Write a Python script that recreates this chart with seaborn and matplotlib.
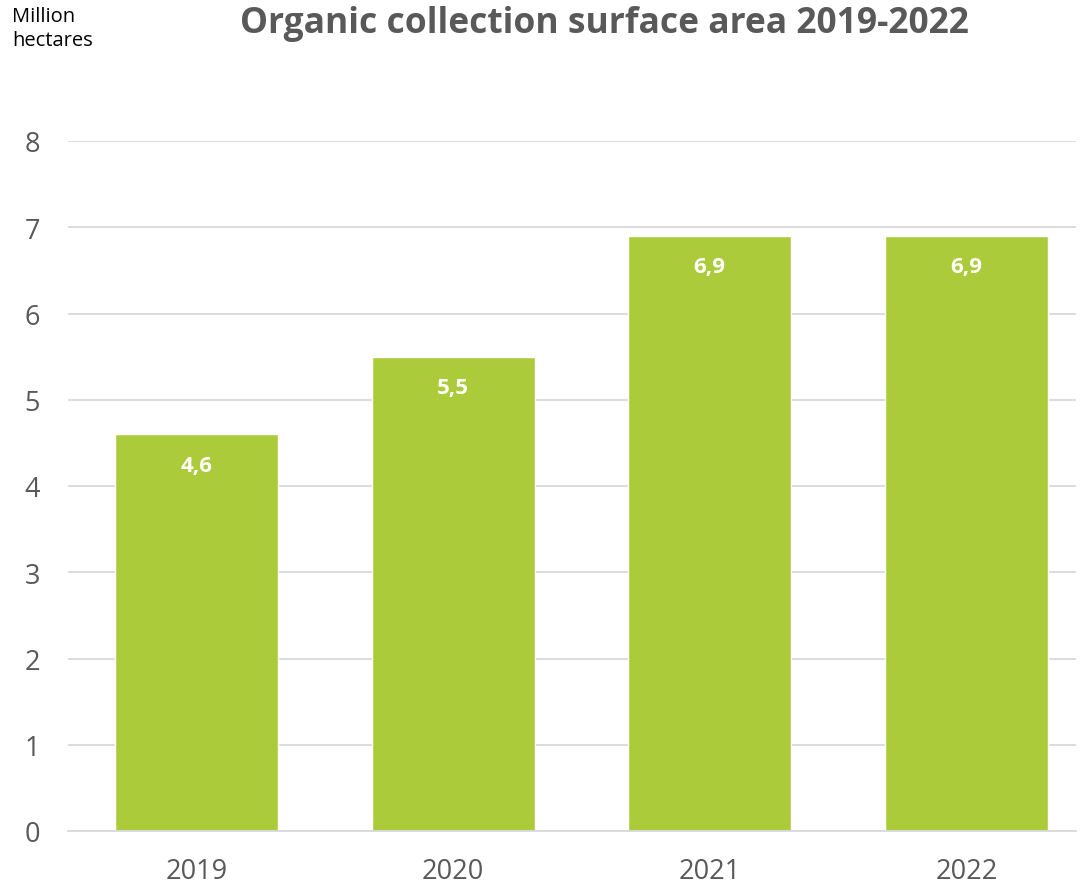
import numpy as np
import pandas as pd
import matplotlib
matplotlib.use("Agg")
import matplotlib.pyplot as plt
import seaborn as sns

years = ["2019", "2020", "2021", "2022"]
area = [4.6, 5.5, 6.9, 6.9]
labels = ["4,6", "5,5", "6,9", "6,9"]

df = pd.DataFrame({"year": years, "area": area})

sns.set_style("white")
plt.rcParams["font.family"] = ["Open Sans", "DejaVu Sans"]

fig = plt.figure(figsize=(10.84, 8.87), dpi=100)
ax = fig.add_axes([68 / 1084, 1 - 832 / 887, (1076 - 68) / 1084, (832 - 142) / 887])

sns.barplot(data=df, x="year", y="area", color="#abcb3b", saturation=1, width=0.635, ax=ax)

ax.set_xlim(-0.5, 3.427)
ax.set_ylim(0, 8)
ax.set_yticks(range(0, 9))
ax.grid(axis="y", color="#d9d9d9", linewidth=1.3)
ax.set_axisbelow(True)
for s in ["top", "right", "left"]:
    ax.spines[s].set_visible(False)
ax.spines["bottom"].set_color("#d9d9d9")
ax.spines["bottom"].set_linewidth(1.3)
ax.tick_params(axis="both", length=0, labelsize=19.5, colors="#595959")
ax.tick_params(axis="x", pad=19)
ax.tick_params(axis="y", pad=20)
ax.set_xlabel("")
ax.set_ylabel("")

for i, (v, t) in enumerate(zip(area, labels)):
    ax.text(i, v - 0.36, t, ha="center", va="center", color="white",
            fontsize=16, fontweight="bold")

fig.text(604 / 1084, 1 - 24 / 887, "Organic collection surface area 2019-2022",
         ha="center", va="center", fontsize=25.5, fontweight="bold", color="#595959")
fig.text(12 / 1084, 1 - 29 / 887, "Million\nhectares", ha="left", va="center",
         fontsize=14.5, color="black", linespacing=1.25)

fig.savefig("out.png", dpi=100)
